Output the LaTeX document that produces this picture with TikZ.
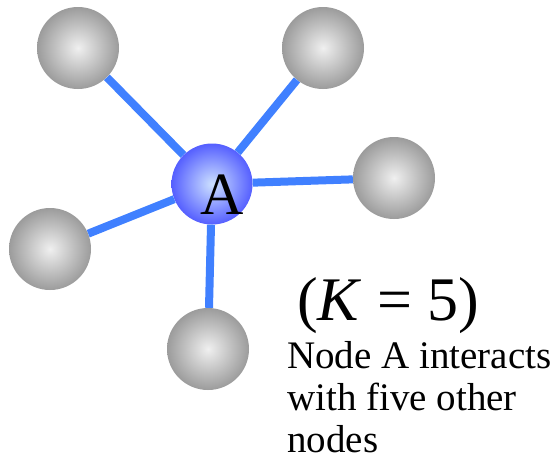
\documentclass[tikz,border=0pt]{standalone}
\usepackage{fontspec}
\setmainfont{Liberation Serif}
\usepackage{tikz}
\usetikzlibrary{shapes}

\definecolor{linkblue}{RGB}{64,128,255}
\definecolor{hubin}{RGB}{205,225,255}
\definecolor{hubout}{RGB}{85,95,255}

\tikzset{
  ball/.style={circle, minimum size=82pt, inner sep=0pt, shading=radial,
    inner color=gray!12, outer color=gray!78},
  hub/.style={circle, minimum size=81pt, inner sep=0pt, shading=radial,
    inner color=hubin, outer color=hubout},
  link/.style={linkblue, line width=8pt}
}

\begin{document}
\begin{tikzpicture}[x=1pt, y=-1pt]
  \useasboundingbox (0,0) rectangle (554,459);

  % Centre node
  \node[hub] (A) at (212,184) {};
  \node[font=\fontsize{60}{60}\selectfont, inner sep=0pt] (Alab) at (222,195) {A};

  % Neighbours
  \node[ball] (n1) at (78,48) {};
  \node[ball] (n2) at (323,48) {};
  \node[ball] (n3) at (394,178) {};
  \node[ball] (n4) at (50,249) {};
  \node[ball] (n5) at (208,349) {};

  % Links
  \draw[link] (A) -- (n1);
  \draw[link] (A) -- (n2);
  \draw[link] (A) -- (n3);
  \draw[link] (A) -- (n4);
  \draw[link] (A) -- (n5);

  % Caption
  \node[anchor=base west, font=\fontsize{62}{62}\selectfont, inner sep=0pt] (K) at (297,320) {(\textit{K} = 5)};
  \node[anchor=base west, align=left, font=\fontsize{39}{42}\selectfont, inner sep=0pt] (cap) at (287,452)
    {Node A interacts\\with five other\\nodes};
\end{tikzpicture}
\end{document}
